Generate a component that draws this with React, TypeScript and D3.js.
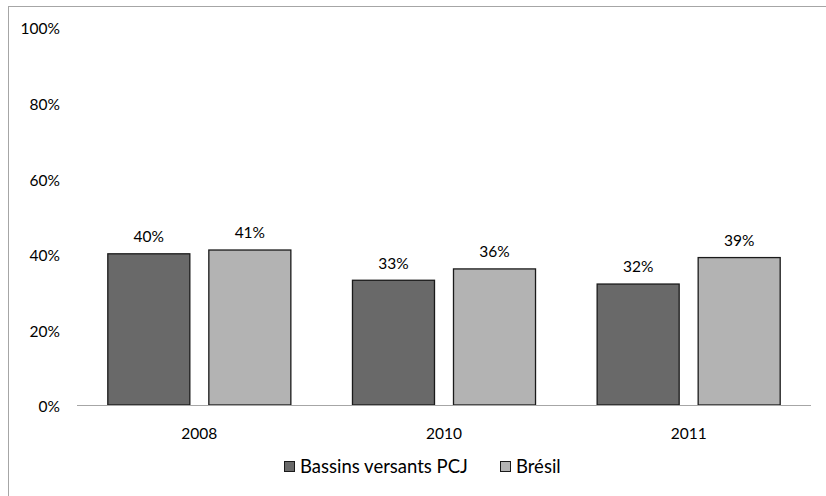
import React from "react";
import * as d3 from "d3";

const categories = ["2008", "2010", "2011"];
const seriesNames = ["Bassins versants PCJ", "Brésil"];
const pcjValues = [0.40, 0.33, 0.32];
const bresilValues = [0.41, 0.36, 0.39];
const yTicks = [0, 0.2, 0.4, 0.6, 0.8, 1.0];
const colors = ["#696969", "#b3b3b3"];

const W = 826;
const H = 496;
const FONT = "Lato, 'Liberation Sans', sans-serif";

export default function App() {
  const left = 77;
  const right = 811;
  const y0 = 405;
  const y1 = 27;

  const x = d3.scaleBand<string>().domain(categories).range([left, right]).paddingInner(0).paddingOuter(0);
  const y = d3.scaleLinear().domain([0, 1]).range([y0, y1]);
  const inner = d3.scaleBand<string>().domain(seriesNames).range([0, x.bandwidth()]).paddingInner(0.188).paddingOuter(0.305);
  const series = [pcjValues, bresilValues];
  const fmt = d3.format(".0%");

  return (
    <svg width={W} height={H} style={{ position: "absolute", left: 0, top: 0 }} fontFamily={FONT}>
      {/* chart frame: continues past the right and bottom edges of the view */}
      <rect x={8.5} y={6.5} width={830} height={500} fill="#fff" stroke="#a6a6a6" strokeWidth={1} />
      {yTicks.map((t) => (
        <text key={t} x={60} y={y(t) + 2} dy="0.35em" textAnchor="end" fontSize={15.5} fill="#000">
          {fmt(t)}
        </text>
      ))}
      {series.map((vals, si) =>
        vals.map((v, ci) => {
          const bx = (x(categories[ci]) as number) + (inner(seriesNames[si]) as number);
          const bw = inner.bandwidth();
          return (
            <g key={`${si}-${ci}`}>
              <rect x={bx} y={y(v)} width={bw} height={y0 - y(v)} fill={colors[si]} stroke="#1a1a1a" strokeWidth={1.3} />
              <text x={bx + bw / 2} y={y(v) - 17} dy="0.35em" textAnchor="middle" fontSize={15.5} fill="#000">
                {fmt(v)}
              </text>
            </g>
          );
        })
      )}
      <line x1={left} x2={right} y1={y0 + 0.5} y2={y0 + 0.5} stroke="#a6a6a6" strokeWidth={1} />
      {categories.map((c) => (
        <text key={c} x={(x(c) as number) + x.bandwidth() / 2} y={434} dy="0.35em" textAnchor="middle" fontSize={15.5} fill="#000">
          {c}
        </text>
      ))}
      <g>
        {seriesNames.map((n, i) => {
          const lx = [284, 500][i];
          return (
            <g key={n}>
              <rect x={lx + 0.5} y={461.5} width={10} height={10} fill={colors[i]} stroke="#1a1a1a" strokeWidth={1} />
              <text x={lx + 16} y={467} dy="0.35em" fontSize={18.5} fill="#000">
                {n}
              </text>
            </g>
          );
        })}
      </g>
    </svg>
  );
}
